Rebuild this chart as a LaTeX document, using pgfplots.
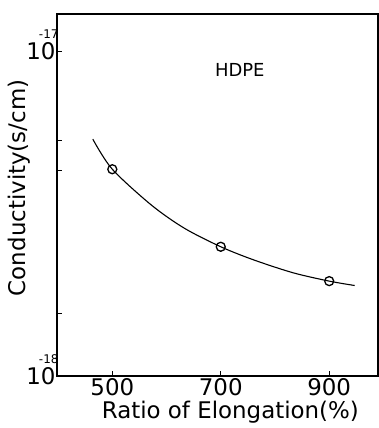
\documentclass[border=0pt]{standalone}
\usepackage{pgfplots}
\pgfplotsset{compat=1.18}
\usepackage{fontspec}
\setmainfont{DejaVu Sans}
\usetikzlibrary{calc}
\newcommand{\tenexp}[1]{10\hspace{3bp}\llap{\smash{\raisebox{21bp}{\fontsize{12}{12}\selectfont #1}}}}
\begin{document}
\begin{tikzpicture}
\begin{axis}[
  scale only axis,
  width=321bp, height=362bp,
  xmin=398, xmax=990,
  ymode=log, ymin=1e-18, ymax=1.3e-17,
  axis line style={line width=1.6bp},
  xtick={500,700,900},
  xticklabels={500,700,900},
  ytick={1e-18,1e-17},
  yticklabels={\tenexp{-18},\tenexp{-17}},
  extra y ticks={1.56e-18,4.3e-18,5.32e-18},
  extra y tick labels={},
  yminorticks=false,
  xminorticks=false,
  tick align=inside,
  major tick length=5bp,
  tick style={line width=1bp, black},
  xtick pos=bottom, ytick pos=left,
  /pgf/number format/assume math mode=true,
  tick label style={font=\fontsize{23}{25}\selectfont},
  yticklabel style={xshift=5bp},
  xticklabel style={yshift=1bp},
  xlabel={Ratio of Elongation(\%)},
  ylabel={Conductivity(s/cm)},
  every axis x label/.style={at={(axis description cs:0.54,0)}, anchor=center, yshift=-36bp, font=\fontsize{23}{25}\selectfont},
  every axis y label/.style={at={(axis description cs:0,0.52)}, anchor=center, xshift=-38bp, rotate=90, font=\fontsize{23}{25}\selectfont},
  clip=false,
]
\addplot[black, line width=1.1bp, smooth, tension=0.5] coordinates {
  (464,5.36e-18) (500,4.33e-18) (572,3.36e-18) (633,2.85e-18) (700,2.50e-18)
  (760,2.28e-18) (833,2.08e-18) (900,1.96e-18) (947,1.90e-18)
};
\addplot[only marks, mark=o, mark size=4.5bp, mark options={line width=1.3bp, fill=white, black}] coordinates {
  (500,4.33e-18) (700,2.50e-18) (900,1.96e-18)
};
\node[font=\fontsize{18}{20}\selectfont] at (axis cs:735,8.75e-18) {HDPE};
\end{axis}
\pgfresetboundingbox
\path[use as bounding box] ($(current axis.south west)+(-57bp,-52bp)$) rectangle ($(current axis.north east)+(1bp,14bp)$);
\end{tikzpicture}
\end{document}
